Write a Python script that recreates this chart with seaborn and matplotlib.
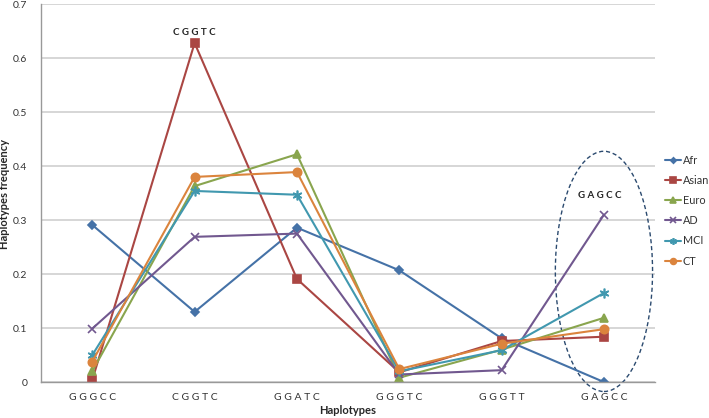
import matplotlib
matplotlib.use("Agg")
import matplotlib.pyplot as plt
import seaborn as sns
import pandas as pd
from matplotlib.patches import Ellipse

haplotypes = ["GGGCC", "CGGTC", "GGATC", "GGGTC", "GGGTT", "GAGCC"]
tick_labels = ["G G G C C", "C G G T C", "G G A T C", "G G G T C", "G G G T T", "G A G C C"]
groups = ["Afr", "Asian", "Euro", "AD", "MCI", "CT"]
afr = [0.291, 0.130, 0.286, 0.207, 0.081, 0.000]
asian = [0.004, 0.628, 0.191, 0.018, 0.076, 0.084]
euro = [0.020, 0.363, 0.422, 0.008, 0.060, 0.119]
ad = [0.099, 0.269, 0.275, 0.014, 0.022, 0.310]
mci = [0.050, 0.354, 0.347, 0.020, 0.059, 0.165]
ct = [0.038, 0.380, 0.389, 0.024, 0.071, 0.098]
values = [afr, asian, euro, ad, mci, ct]

colors = ["#4572A7", "#AA4643", "#89A54E", "#71588F", "#4198AF", "#DB843D"]
markers = ["D", "s", "^", "x", (6, 2, 0), "o"]
msizes = [4, 6, 6, 6, 7, 6]

rows = []
for g, vals in zip(groups, values):
    for i, (h, v) in enumerate(zip(haplotypes, vals)):
        rows.append({"group": g, "idx": i, "hap": h, "freq": v})
df = pd.DataFrame(rows)

sns.set_style("white")
plt.rcParams["font.family"] = ["Lato", "DejaVu Sans"]
fig = plt.figure(figsize=(7.09, 4.18), dpi=100)
ax = fig.add_axes([0.058, 0.086, 0.866, 0.904])

for g, c, m, ms in zip(groups, colors, markers, msizes):
    sub = df[df["group"] == g]
    sns.lineplot(data=sub, x="idx", y="freq", ax=ax, color=c, marker=m,
                 markersize=ms, linewidth=1.5, label=g,
                 markeredgecolor=c, markeredgewidth=1.2)

ax.set_xlim(-0.5, 5.5)
ax.set_ylim(0, 0.7)
ax.set_yticks([0, 0.1, 0.2, 0.3, 0.4, 0.5, 0.6, 0.7])
ax.set_yticklabels(["0", "0.1", "0.2", "0.3", "0.4", "0.5", "0.6", "0.7"])
ax.set_xticks(range(6))
ax.set_xticklabels(tick_labels)
ax.set_xticks([-0.5 + i for i in range(7)], minor=True)
ax.tick_params(axis="x", which="major", length=0, labelsize=7.5, colors="#333333", pad=8)
ax.tick_params(axis="x", which="minor", length=4, color="#999999", direction="out")
ax.tick_params(axis="y", length=4, color="#999999", labelsize=7.5, colors="#333333",
               direction="out", pad=6)
ax.yaxis.grid(True, color="#d0d0d0", linewidth=1.2)
ax.set_axisbelow(True)
for s in ["top", "right"]:
    ax.spines[s].set_visible(False)
for s in ["left", "bottom"]:
    ax.spines[s].set_color("#999999")
    ax.spines[s].set_linewidth(1)

ax.set_xlabel("Haplotypes", fontsize=8, fontweight="bold", labelpad=2)
ax.set_ylabel("Haplotypes frequency", fontsize=8, fontweight="bold", labelpad=2)
ax.yaxis.set_label_coords(-0.05, 0.497)

ax.text(1, 0.648, "C G G T C", fontsize=7, fontweight="bold", ha="center", va="center")
ax.text(4.96, 0.345, "G A G C C", fontsize=7, fontweight="bold", ha="center", va="center")
ell = Ellipse((5.0, 0.205), width=0.95, height=0.445, fill=False,
              edgecolor="#2B4A6F", linestyle=(0, (3, 2)), linewidth=1)
ell.set_clip_on(False)
ax.add_patch(ell)

leg = ax.legend(loc="center left", bbox_to_anchor=(0.938, 0.396, 0.06, 0.2),
                bbox_transform=fig.transFigure, frameon=False, fontsize=7.8,
                handlelength=1.5, handletextpad=0.15, labelspacing=0.85,
                borderaxespad=0, borderpad=0, markerscale=0.7)
for t in leg.get_texts():
    t.set_color("#333333")

fig.savefig("out.png", dpi=100)
